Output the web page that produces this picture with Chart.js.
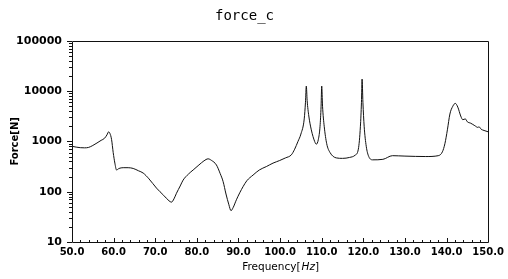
<!DOCTYPE html>
<html>
<head>
<meta charset="utf-8">
<script src="https://cdn.jsdelivr.net/npm/chart.js@4.4.1/dist/chart.umd.min.js"></script>
<style>
    html, body { margin: 0; padding: 0; background: #fff; }
    #wrap { width: 508px; height: 279px; }
</style>
</head>
<body>
<div id="wrap"><canvas id="myChart" width="508" height="279"></canvas></div>
<script>
/* data */
var freq = [50, 51, 52, 53, 54, 55, 56, 57, 57.8, 58.4, 58.8, 59.1, 59.5, 59.9, 60.3, 60.7,
    61.3, 62.3, 63.5, 64.7, 66, 67.1, 68.5, 70.3, 72, 73.3, 73.9, 74.5, 75.1, 76, 76.7,
    78, 79.1, 80.5, 81.7, 82.7, 83.5, 84.7, 85.6, 86.3, 87, 87.7, 88.2, 88.7, 89.5, 90.3,
    91.1, 92, 93.5, 95, 96.7, 98.3, 99.9, 101.3, 102.7, 103.5, 104.3, 105, 105.8, 106.1,
    106.3, 106.5, 106.9, 107.5, 108.3, 108.7, 109.2, 109.6, 109.85, 110, 110.2, 110.6,
    111.2, 112, 113.5, 115, 116.7, 118, 118.8, 119.3, 119.55, 119.7, 119.9, 120.2, 120.7,
    121.3, 122.3, 124.7, 127, 130, 135, 138, 139, 139.6, 140.2, 140.8, 141.5, 142.1, 142.7,
    143.4, 143.9, 144.5, 145, 145.8, 146.8, 147.5, 147.8, 148.3, 149, 150];
var force = [800, 770, 750, 745, 760, 830, 930, 1050, 1150, 1350, 1550, 1450, 1100, 600, 370, 270,
    290, 300, 300, 290, 260, 235, 180, 118, 85, 66, 62, 72, 93, 130, 170,
    225, 270, 340, 410, 450, 420, 340, 230, 160, 90, 55, 42, 48, 69, 95,
    126, 165, 214, 270, 316, 370, 417, 470, 540, 700, 1000, 1400, 2800, 6000,
    12600, 6500, 3200, 1700, 1000, 880, 1100, 2000, 5000, 12600, 5000, 2000,
    900, 600, 470, 460, 480, 530, 700, 2000, 6000, 17300, 6000, 2000, 800,
    500, 430, 440, 520, 510, 500, 520, 620, 900, 1700, 3500, 5000, 5700, 4800,
    3200, 2700, 2800, 2450, 2300, 2050, 1900, 1950, 1750, 1650, 1550];
var xTicks = [50, 60, 70, 80, 90, 100, 110, 120, 130, 140, 150];
var yTicks = [10, 100, 1000, 10000, 100000];

var pts = freq.map(function(f, i) { return {x: f, y: force[i]}; });

/* 外框和刻度 */
var frameTicks = {
    id: 'frameTicks',
    afterDraw: function(chart) {
        var c = chart.ctx, a = chart.chartArea;
        var xs = chart.scales.x, ys = chart.scales.y;
        c.save();
        c.strokeStyle = '#111';
        c.lineWidth = 1;
        c.beginPath();
        c.rect(Math.round(a.left) + 0.5, Math.round(a.top) + 0.5,
            Math.round(a.right - a.left), Math.round(a.bottom - a.top));
        c.stroke();
        c.beginPath();
        // y: decades + log minors, pointing left
        for (var d = 10; d < 100000; d *= 10) {
            for (var k = 1; k < 10; k++) {
                var py = Math.round(ys.getPixelForValue(d * k)) + 0.5;
                var len = k === 1 ? 5 : 3;
                c.moveTo(a.left - len, py);
                c.lineTo(a.left, py);
            }
        }
        var pTop = Math.round(ys.getPixelForValue(100000)) + 0.5;
        c.moveTo(a.left - 5, pTop); c.lineTo(a.left, pTop);
        // x: major every 10, minor every 2, pointing up
        for (var f = 50; f <= 150; f += 2) {
            var px = Math.round(xs.getPixelForValue(f)) + 0.5;
            var l = (f % 10 === 0) ? 4 : 2;
            c.moveTo(px, a.bottom);
            c.lineTo(px, a.bottom - l);
        }
        c.stroke();
        // x axis title with italic unit
        var t1 = 'Frequency[', t2 = 'Hz', t3 = ']';
        var fn = '10.5px "DejaVu Sans"', fi = 'italic 10.5px "DejaVu Sans"';
        c.font = fn; var w1 = c.measureText(t1).width, w3 = c.measureText(t3).width;
        c.font = fi; var w2 = c.measureText(t2).width;
        var x0 = (a.left + a.right) / 2 - (w1 + w2 + w3) / 2;
        c.fillStyle = '#000';
        c.textBaseline = 'middle';
        c.textAlign = 'left';
        c.font = fn; c.fillText(t1, x0, 267);
        c.font = fi; c.fillText(t2, x0 + w1 + 1, 267);
        c.font = fn; c.fillText(t3, x0 + w1 + w2 + 1, 267);
        c.restore();
    }
};

var ctx = document.getElementById('myChart').getContext('2d');
var myChart = new Chart(ctx, {
    type: 'line',
    data: {
        datasets: [{
            data: pts,
            borderColor: '#111',
            borderWidth: 1,
            pointRadius: 0,
            fill: false,
            cubicInterpolationMode: 'monotone'
        }]
    },
    plugins: [frameTicks],
    options: {
        responsive: false,
        animation: false,
        layout: {
            padding: {left: 0, right: 19, top: 0, bottom: 0}
        },
        plugins: {
            legend: {display: false},
            tooltip: {enabled: false},
            title: {
                display: true,
                text: 'force_c',
                color: '#000',
                font: {family: '"DejaVu Sans Mono"', size: 14, weight: 'normal'},
                padding: {top: 8, bottom: 16}
            }
        },
        scales: {
            x: {
                type: 'linear',
                min: 50,
                max: 150,
                afterBuildTicks: function(s) { s.ticks = xTicks.map(function(v) { return {value: v}; }); },
                afterFit: function(s) { s.height = 37; },
                ticks: {
                    color: '#000',
                    padding: 4,
                    maxRotation: 0,
                    font: {family: '"DejaVu Sans"', size: 10, weight: '600'},
                    callback: function(v) { return Number(v).toFixed(1); }
                },
                grid: {drawOnChartArea: false, drawTicks: false},
                border: {display: false}
            },
            y: {
                type: 'logarithmic',
                min: 10,
                max: 100000,
                afterBuildTicks: function(s) { s.ticks = yTicks.map(function(v) { return {value: v}; }); },
                afterFit: function(s) { s.width = 72; },
                ticks: {
                    color: '#000',
                    padding: 10,
                    font: {family: '"DejaVu Sans"', size: 11, weight: '600'},
                    callback: function(v) { return String(v); }
                },
                grid: {drawOnChartArea: false, drawTicks: false},
                border: {display: false},
                title: {
                    display: true,
                    text: 'Force[N]',
                    color: '#000',
                    font: {family: '"DejaVu Sans"', size: 10, weight: '600'},
                    padding: {top: 9, bottom: 0}
                }
            }
        }
    }
});
</script>
</body>
</html>
